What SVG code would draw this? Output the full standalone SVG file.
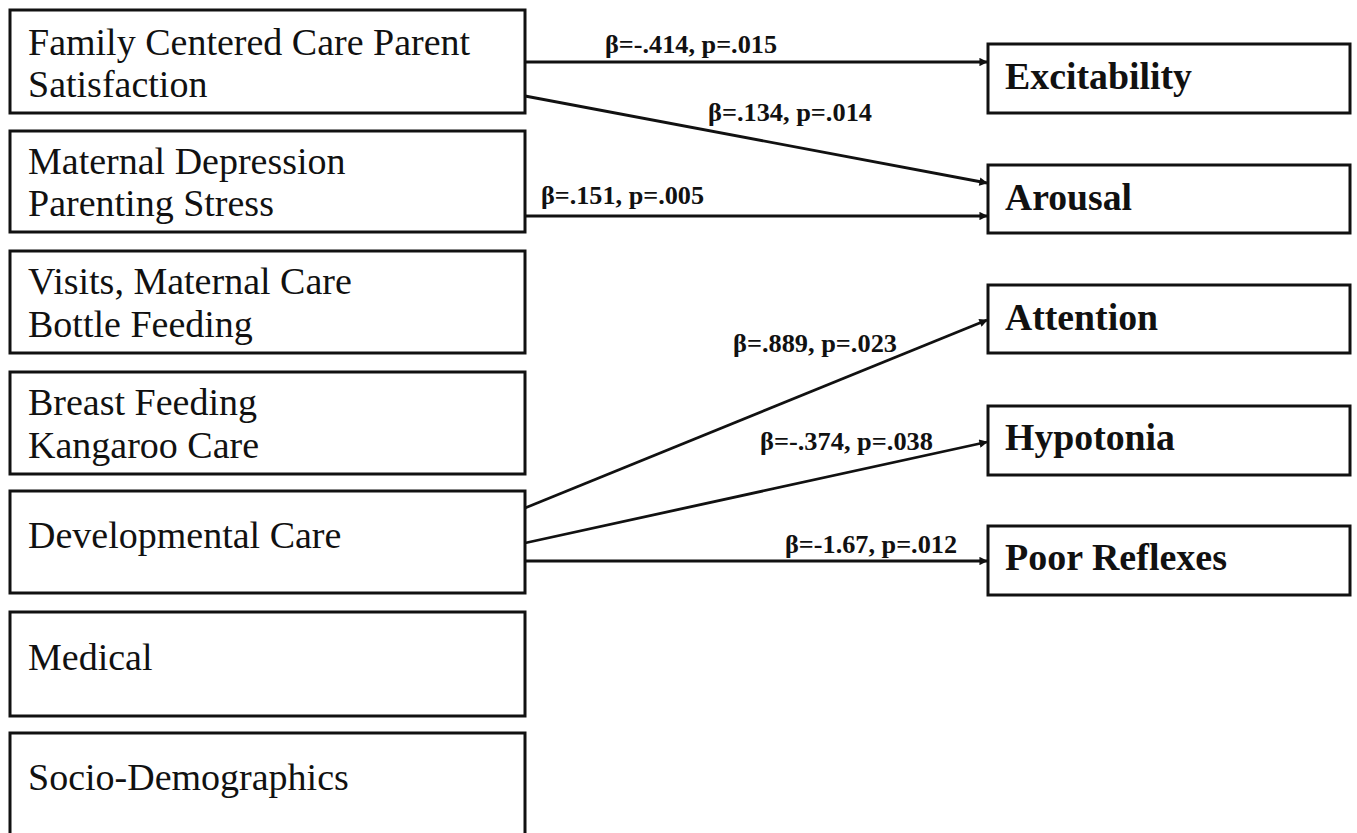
<svg xmlns="http://www.w3.org/2000/svg" width="1357" height="833" viewBox="0 0 1357 833">
<style>
.box{fill:#fff;stroke:#111;stroke-width:3}
.lt{font-family:"Liberation Serif","Times New Roman",serif;font-size:38px;fill:#111}
.rt{font-family:"Liberation Serif","Times New Roman",serif;font-size:38px;font-weight:bold;fill:#111}
.el{font-family:"Liberation Serif","Times New Roman",serif;font-size:26px;font-weight:bold;fill:#111}
.edge{stroke:#111;stroke-width:2.8;fill:none;marker-end:url(#ah)}
</style>
<defs>
<marker id="ah" viewBox="0 0 10 10" refX="9" refY="5" markerWidth="3.6" markerHeight="3" orient="auto" markerUnits="strokeWidth">
<path d="M0,0 L10,5 L0,10 z" fill="#111"/>
</marker>
</defs>
<rect width="1357" height="833" fill="#fff"/>
<g id="n-family"><rect class="box" x="10" y="10" width="515" height="103"/><text class="lt" x="28" y="55">Family Centered Care Parent</text><text class="lt" x="28" y="97">Satisfaction</text></g>
<g id="n-maternal"><rect class="box" x="10" y="131" width="515" height="101"/><text class="lt" x="28" y="174">Maternal Depression</text><text class="lt" x="28" y="216">Parenting Stress</text></g>
<g id="n-visits"><rect class="box" x="10" y="251" width="515" height="102"/><text class="lt" x="28" y="294">Visits, Maternal Care</text><text class="lt" x="28" y="337">Bottle Feeding</text></g>
<g id="n-breast"><rect class="box" x="10" y="372" width="515" height="102"/><text class="lt" x="28" y="415">Breast Feeding</text><text class="lt" x="28" y="458">Kangaroo Care</text></g>
<g id="n-dev"><rect class="box" x="10" y="491" width="515" height="102"/><text class="lt" x="28" y="548">Developmental Care</text></g>
<g id="n-medical"><rect class="box" x="10" y="612" width="515" height="104"/><text class="lt" x="28" y="670">Medical</text></g>
<g id="n-socio"><rect class="box" x="10" y="733" width="515" height="104"/><text class="lt" x="28" y="790">Socio-Demographics</text></g>
<g id="n-excit"><rect class="box" x="988" y="44" width="362" height="69"/><text class="rt" x="1005" y="89" textLength="187" lengthAdjust="spacingAndGlyphs">Excitability</text></g>
<g id="n-arousal"><rect class="box" x="988" y="165" width="362" height="68"/><text class="rt" x="1005" y="210" textLength="127" lengthAdjust="spacingAndGlyphs">Arousal</text></g>
<g id="n-attention"><rect class="box" x="988" y="285" width="362" height="68"/><text class="rt" x="1005" y="330" textLength="153" lengthAdjust="spacingAndGlyphs">Attention</text></g>
<g id="n-hypo"><rect class="box" x="988" y="406" width="362" height="69"/><text class="rt" x="1005" y="450" textLength="170" lengthAdjust="spacingAndGlyphs">Hypotonia</text></g>
<g id="n-poor"><rect class="box" x="988" y="526" width="362" height="69"/><text class="rt" x="1005" y="570" textLength="222" lengthAdjust="spacingAndGlyphs">Poor Reflexes</text></g>
<g id="connectors">
<line class="edge" x1="525" y1="62" x2="987" y2="62"/>
<line class="edge" x1="525" y1="96" x2="987" y2="183"/>
<line class="edge" x1="525" y1="216" x2="987" y2="216"/>
<line class="edge" x1="525" y1="508" x2="987" y2="320"/>
<line class="edge" x1="525" y1="543" x2="987" y2="442"/>
<line class="edge" x1="525" y1="561" x2="987" y2="561"/>
<text class="el" x="605" y="53" textLength="172" lengthAdjust="spacingAndGlyphs">β=-.414, p=.015</text>
<text class="el" x="708" y="121" textLength="164" lengthAdjust="spacingAndGlyphs">β=.134, p=.014</text>
<text class="el" x="541" y="204" textLength="163" lengthAdjust="spacingAndGlyphs">β=.151, p=.005</text>
<text class="el" x="733" y="352" textLength="164" lengthAdjust="spacingAndGlyphs">β=.889, p=.023</text>
<text class="el" x="760" y="450" textLength="173" lengthAdjust="spacingAndGlyphs">β=-.374, p=.038</text>
<text class="el" x="785" y="553" textLength="172" lengthAdjust="spacingAndGlyphs">β=-1.67, p=.012</text>
</g>
</svg>
